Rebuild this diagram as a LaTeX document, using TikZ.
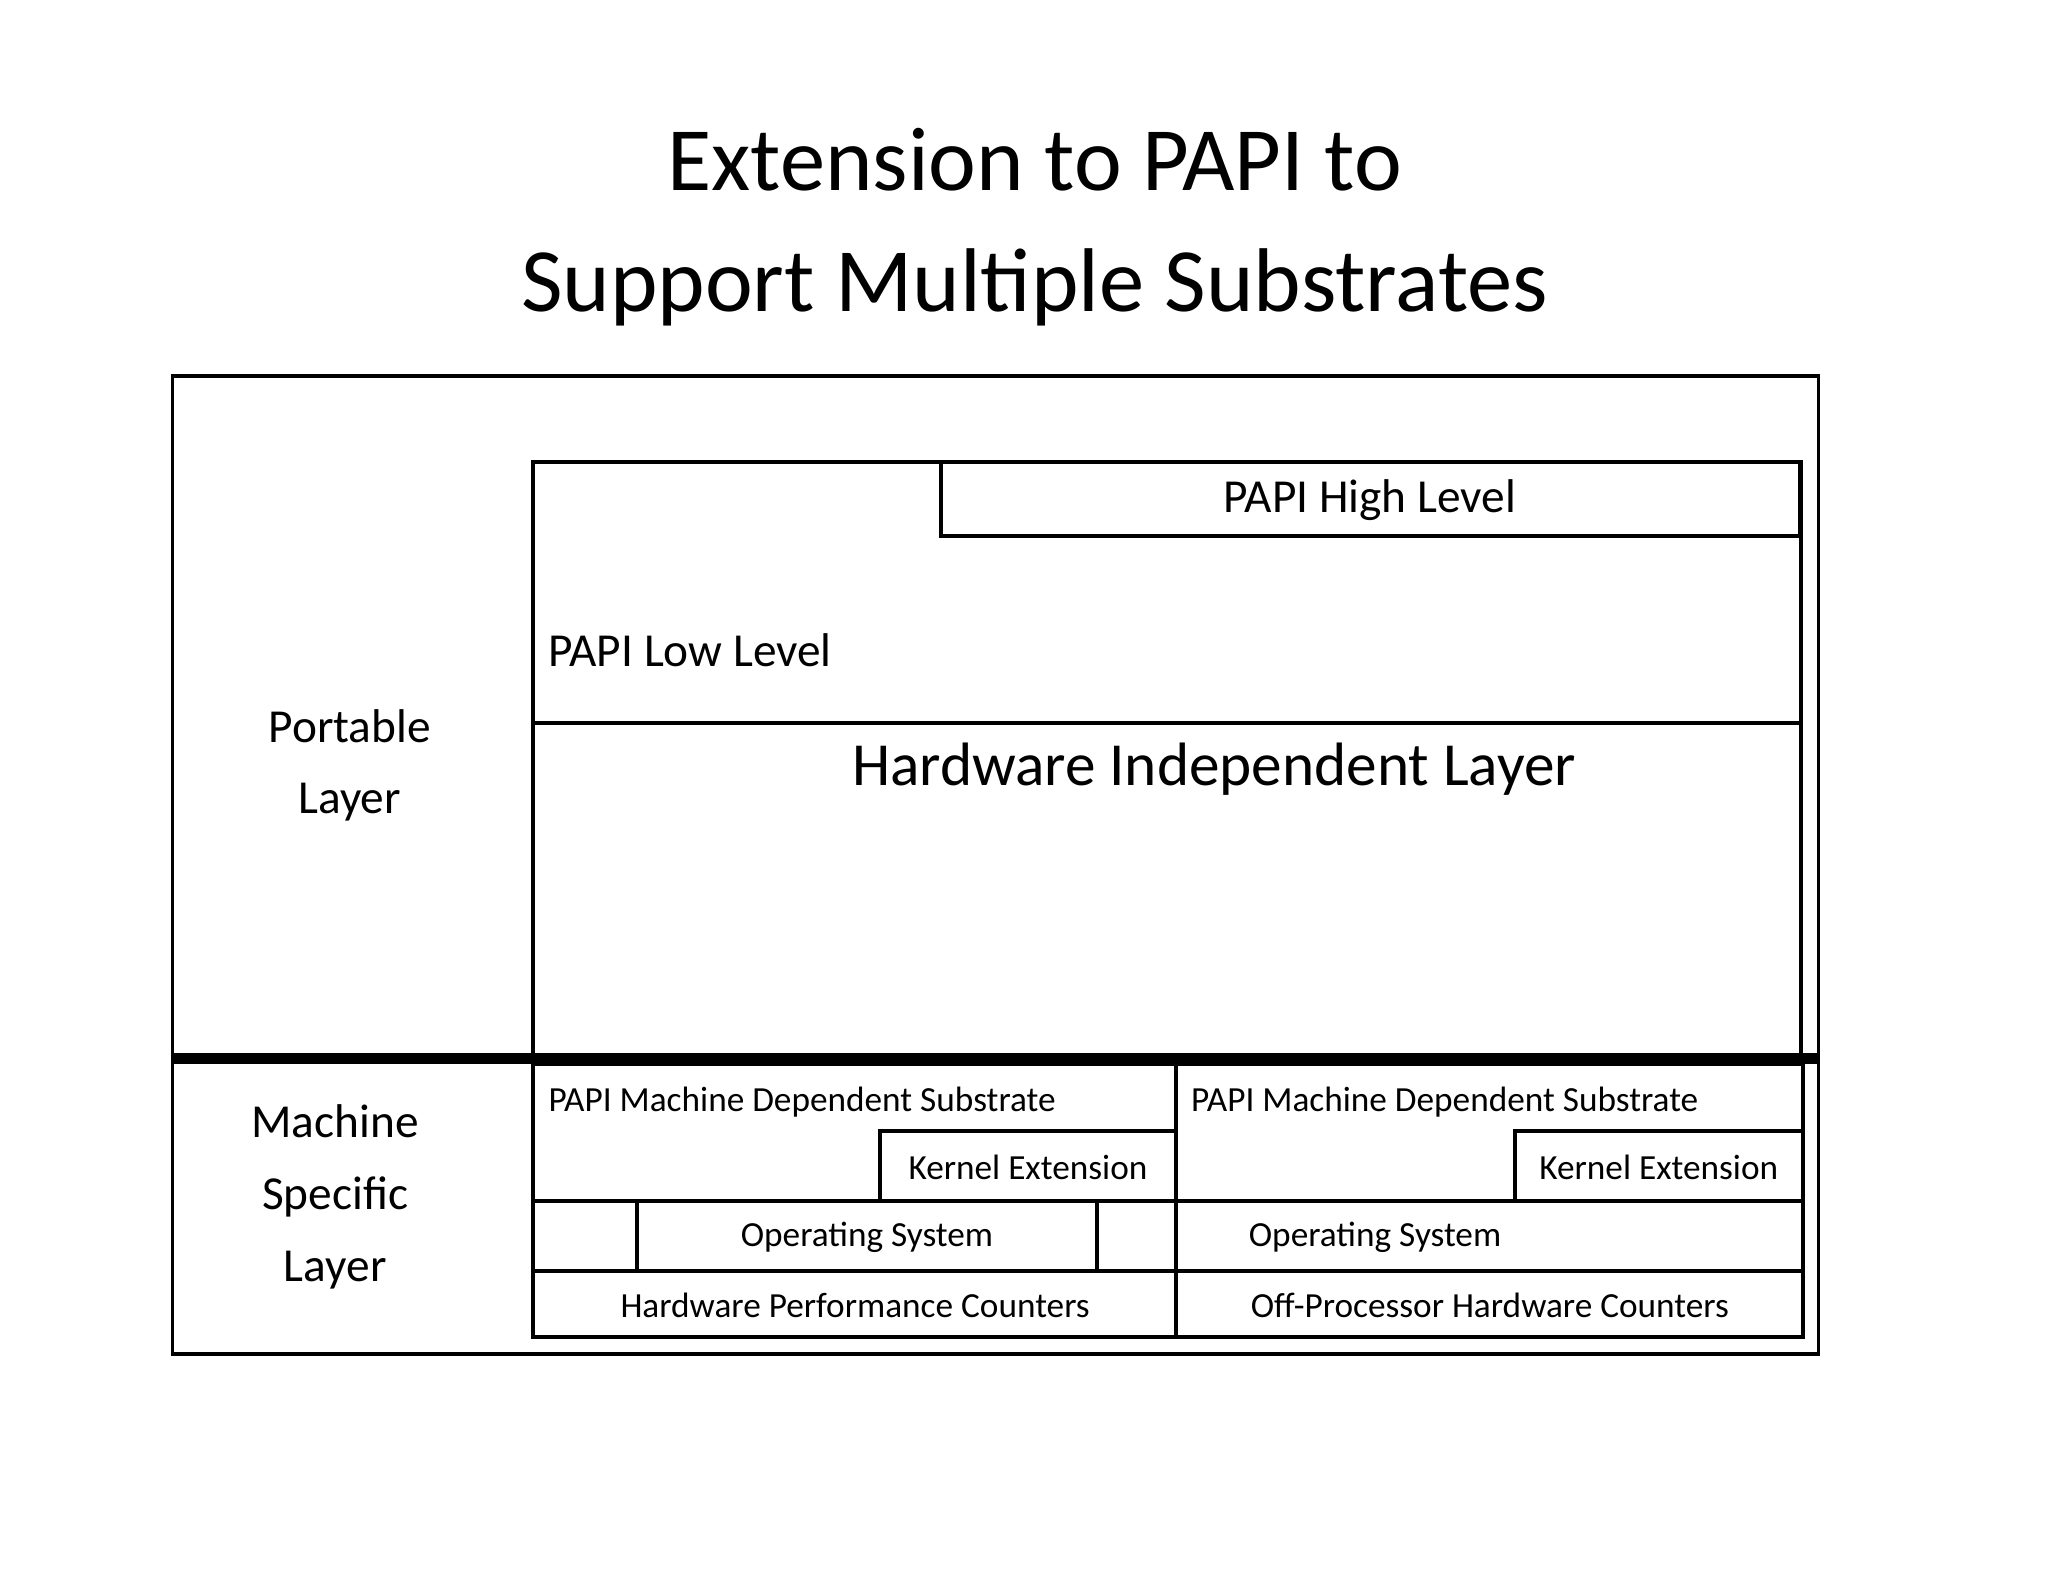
\documentclass[tikz,border=0pt]{standalone}
\usepackage{fontspec}
\setmainfont{Carlito}
\begin{document}
\begin{tikzpicture}[x=0.01cm,y=-0.01cm,
  box/.style={draw,line width=0.9pt},
  sm/.style={font=\fontsize{7.6}{9}\selectfont,inner sep=0pt},
  md/.style={font=\fontsize{10.2}{12.5}\selectfont,inner sep=0pt,align=center}]
\useasboundingbox (0,0) rectangle (1552,1199);
\node[font=\fontsize{19.5}{24}\selectfont,align=center] (title) at (784,172) {Extension to PAPI to\\[2pt]Support Multiple Substrates};
\draw[line width=0.7pt] (131,285) rectangle (1378,1026);
\draw[box] (404,350) rectangle (1365,802);
\draw[box] (713,350) rectangle (1364,406);
\draw[line width=0.9pt] (404,548) -- (1365,548);
\draw[line width=2.4pt] (131,802) -- (1378,802);
% left substrate
\draw[box] (404,806) rectangle (891,1013);
\draw[box] (667,857) rectangle (891,910);
\draw[box] (404,910) rectangle (891,963);
\draw[line width=0.9pt] (483,910) -- (483,963) (831,910) -- (831,963);
% right substrate
\draw[box] (891,806) rectangle (1366,1013);
\draw[box] (1148,857) rectangle (1366,910);
\draw[box] (891,910) rectangle (1366,963);
\node[md] (hl) at (1038,379) {PAPI High Level};
\node[md,anchor=west] (ll) at (415,493) {PAPI Low Level};
\node[md,font=\fontsize{13.2}{16}\selectfont] (hil) at (920,583) {Hardware Independent Layer};
\node[md] (pl) at (265,580) {Portable\\[3pt]Layer};
\node[md] (ms) at (254,907) {Machine\\[3pt]Specific\\[3pt]Layer};
\node[sm,anchor=west] (s1) at (415,835) {PAPI Machine Dependent Substrate};
\node[sm,anchor=west] (s2) at (902,835) {PAPI Machine Dependent Substrate};
\node[sm] (k1) at (779,885) {Kernel Extension};
\node[sm] (k2) at (1257,885) {Kernel Extension};
\node[sm] (o1) at (657,938) {Operating System};
\node[sm] (o2) at (1042,938) {Operating System};
\node[sm] (h1) at (648,989) {Hardware Performance Counters};
\node[sm] (h2) at (1129,989) {Off-Processor Hardware Counters};
\end{tikzpicture}
\end{document}
